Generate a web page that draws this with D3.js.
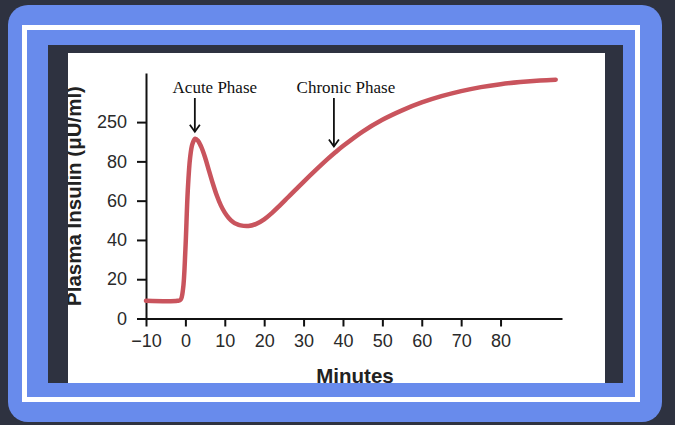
<!DOCTYPE html>
<html lang="en">
<head>
<meta charset="utf-8">
<title>Plasma insulin</title>
<script src="https://d3js.org/d3.v7.min.js"></script>
<style>
  body { margin: 0; background: #2e3240; }
  svg { display: block; }
  .axis path, .axis line { stroke: #111; stroke-width: 2; }
  .axis text { font-family: "Liberation Sans", Arial, sans-serif; font-size: 18px; fill: #2a2a2a; }
</style>
</head>
<body>
<div id="area"></div>
<script>
// data
var minutes = [-10, -2, -1.2, -0.6, 0, 0.6, 1.2, 1.8, 2.5, 3.2, 4, 5, 6, 7, 8, 9, 10, 11, 12, 13, 14, 16, 18, 20, 22, 24, 26, 28, 30, 33, 36, 38, 40, 45, 50, 55, 60, 65, 70, 75, 80, 85, 90, 94];
var insulin = [9, 9, 9.6, 15, 35, 65, 82, 89, 91.5, 90.5, 87.5, 82, 75.2, 68.5, 62.5, 57.6, 53.9, 51.2, 49.3, 48.1, 47.4, 47.1, 48.2, 50.5, 53.8, 57.6, 61.6, 65.6, 69.6, 75.4, 81, 84.5, 87.8, 95.2, 101.2, 106, 110, 113.2, 115.8, 117.8, 119.3, 120.4, 121.2, 121.6];
var xTicks = [-10, 0, 10, 20, 30, 40, 50, 60, 70, 80];
var yTicks = [0, 20, 40, 60, 80, 100];
var yTickLabels = ["0", "20", "40", "60", "80", "250"];
var phaseLabels = ["Acute Phase", "Chronic Phase"];
var phaseMinutes = [2.4, 37.7];
var phaseValues = [91.5, 84];

var w = 675, h = 425;

var svg = d3.select("#area").append("svg")
    .attr("width", w)
    .attr("height", h);

// frame
svg.append("rect").attr("width", w).attr("height", h).attr("fill", "#2e3240");
svg.append("rect")
    .attr("x", 8).attr("y", 5).attr("width", 654).attr("height", 417)
    .attr("rx", 20).attr("fill", "#688bec");
svg.append("rect")
    .attr("x", 24.5).attr("y", 27.5).attr("width", 613).attr("height", 372)
    .attr("fill", "none").attr("stroke", "#fff").attr("stroke-width", 5);
svg.append("rect")
    .attr("x", 48).attr("y", 45).attr("width", 575).attr("height", 338)
    .attr("fill", "#2e3240");
svg.append("rect")
    .attr("x", 68).attr("y", 53).attr("width", 537).attr("height", 330)
    .attr("fill", "#fff");

svg.append("clipPath").attr("id", "clip")
  .append("rect").attr("x", 68).attr("y", 53).attr("width", 537).attr("height", 330);

var g = svg.append("g").attr("clip-path", "url(#clip)");

var xScale = d3.scaleLinear().domain([-10, 95.6]).range([146, 562]);
var yScale = d3.scaleLinear().domain([0, 125]).range([318.5, 73]);

// x axis
g.append("g")
    .attr("class", "axis")
    .attr("transform", "translate(0," + yScale(0) + ")")
    .call(d3.axisBottom(xScale).tickValues(xTicks).tickSize(8).tickSizeOuter(0).tickPadding(8));

// y axis
g.append("g")
    .attr("class", "axis")
    .attr("transform", "translate(" + xScale(-10) + ",0)")
    .call(d3.axisLeft(yScale).tickValues(yTicks).tickSize(9).tickSizeOuter(0).tickPadding(10)
      .tickFormat(function(d, i) { return yTickLabels[i]; }));

// the curve
var pts = minutes.map(function(m, i) { return [m, insulin[i]]; });
g.append("path")
    .datum(pts)
    .attr("fill", "none")
    .attr("stroke", "#c9545d")
    .attr("stroke-width", 4.5)
    .attr("stroke-linecap", "round")
    .attr("stroke-linejoin", "round")
    .attr("d", d3.line()
      .x(function(d) { return xScale(d[0]); })
      .y(function(d) { return yScale(d[1]); })
      .curve(d3.curveCatmullRom.alpha(0.5)));

// phase labels + arrows
phaseLabels.forEach(function(lbl, i) {
  var ax = xScale(phaseMinutes[i]);
  var tip = yScale(phaseValues[i]) - 7;
  g.append("text")
      .attr("x", ax + (i === 0 ? 20 : 12))
      .attr("y", 93)
      .attr("text-anchor", "middle")
      .attr("font-family", "'Liberation Serif', 'Times New Roman', serif")
      .attr("font-size", "17px")
      .attr("fill", "#111")
      .text(lbl);
  g.append("line")
      .attr("x1", ax).attr("x2", ax)
      .attr("y1", 98).attr("y2", tip)
      .attr("stroke", "#111").attr("stroke-width", 1.8);
  g.append("path")
      .attr("d", "M" + (ax - 5) + "," + (tip - 7) + "L" + ax + "," + tip + "L" + (ax + 5) + "," + (tip - 7))
      .attr("fill", "none").attr("stroke", "#111").attr("stroke-width", 1.8);
});

// axis titles
g.append("text")
    .attr("x", 355)
    .attr("y", 383)
    .attr("text-anchor", "middle")
    .attr("font-family", "'Liberation Sans', Arial, sans-serif")
    .attr("font-weight", "bold")
    .attr("font-size", "20.5px")
    .attr("fill", "#222")
    .text("Minutes");

g.append("text")
    .attr("transform", "translate(81,196) rotate(-90)")
    .attr("text-anchor", "middle")
    .attr("font-family", "'Liberation Sans', Arial, sans-serif")
    .attr("font-weight", "bold")
    .attr("font-size", "20.5px")
    .attr("fill", "#222")
    .text("Plasma Insulin (\u03bcU/ml)");
</script>
</body>
</html>
